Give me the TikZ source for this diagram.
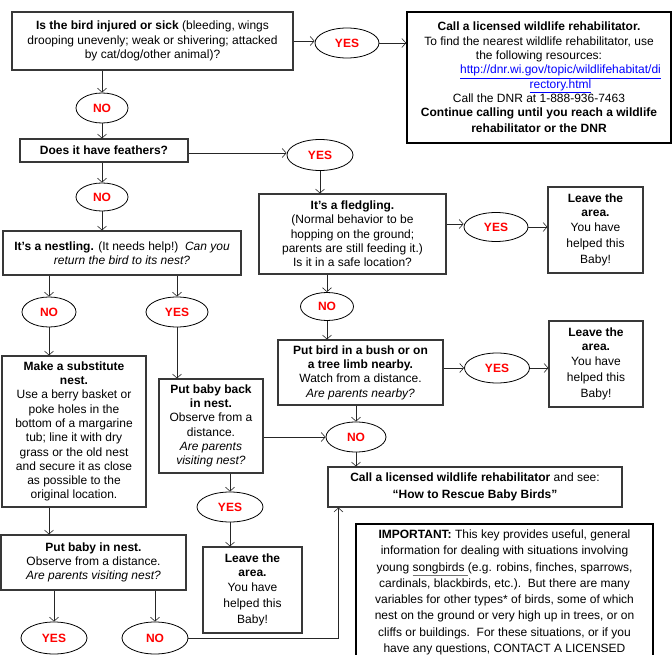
\documentclass[tikz,border=0pt]{standalone}
\usepackage{fontspec}
\setmainfont{Liberation Sans}
\usetikzlibrary{shapes.geometric,arrows.meta,calc}
\definecolor{linkblue}{HTML}{0000FF}
\definecolor{yesred}{HTML}{FF0000}
\newcommand\fsz{\fontsize{12}{14.3}\selectfont}
\newcommand\lnk[1]{\textcolor{linkblue}{\underline{#1}}}
\begin{document}
\begin{tikzpicture}[x=1pt,y=-1pt,
  box/.style={draw=black!78, line width=1.1pt, inner sep=0pt, align=center, font=\fsz, text=black},
  bigbox/.style={box, draw=black, line width=1.5pt},
  oval/.style={ellipse, draw=black, line width=0.8pt, inner sep=0pt, font=\fsz\bfseries, text=yesred},
  arr/.style={-{Straight Barb[length=4pt,width=9pt]}, line width=0.6pt, draw=black!85}]
\useasboundingbox (0,0) rectangle (672,655);
\fill[white] (0,0) rectangle (672,655);
\clip (0,0) rectangle (672,655);

% boxes
\node[box, minimum width=281pt, minimum height=58pt] (b1) at (152.5,41)
  {\textbf{Is the bird injured or sick} (bleeding, wings\\drooping unevenly; weak or shivering; attacked\\by cat/dog/other animal)?};
\node[bigbox, minimum width=264pt, minimum height=131pt] (b2) at (539,77.5)
  {\textbf{Call a licensed wildlife rehabilitator.}\\To find the nearest wildlife rehabilitator, use\\the following resources:\\\hspace*{43pt}\lnk{http://dnr.wi.gov/topic/wildlifehabitat/di}\\\hspace*{43pt}\lnk{rectory.html}\\Call the DNR at 1-888-936-7463\\\textbf{Continue calling until you reach a wildlife}\\[1.5pt]\textbf{rehabilitator or the DNR}};
\node[box, minimum width=168pt, minimum height=23pt] (b3) at (104,150.5)
  {\textbf{Does it have feathers?}};
\node[box, minimum width=238pt, minimum height=44pt] (b4) at (122,253)
  {\textbf{It’s a nestling.} (It needs help!)\ \ \textit{Can you}\\\textit{return the bird to its nest?}};
\node[box, minimum width=187pt, minimum height=80pt] (b5) at (352.5,234)
  {\textbf{It’s a fledgling.}\\(Normal behavior to be\\hopping on the ground;\\parents are still feeding it.)\\Is it in a safe location?};
\node[box, minimum width=95pt, minimum height=86pt] (b6) at (595.5,230)
  {\textbf{Leave the}\\\textbf{area.}\\You have\\[2pt]helped this\\[2pt]Baby!};
\node[box, minimum width=165pt, minimum height=65pt] (b7) at (360.5,372.5)
  {\textbf{Put bird in a bush or on}\\\textbf{a tree limb nearby.}\\Watch from a distance.\\\textit{Are parents nearby?}};
\node[box, minimum width=94pt, minimum height=86pt] (b8) at (596,364)
  {\textbf{Leave the}\\\textbf{area.}\\You have\\[2pt]helped this\\[2pt]Baby!};
\node[box, minimum width=294pt, minimum height=40pt] (b9) at (475,487)
  {\textbf{Call a licensed wildlife rehabilitator} and see:\\[3pt]\textbf{“How to Rescue Baby Birds”}};
\node[bigbox, anchor=north, minimum width=297pt, inner ysep=6pt, font=\fontsize{12}{16.3}\selectfont] (b10) at (504.5,523)
  {\textbf{IMPORTANT:} This key provides useful, general\\information for dealing with situations involving\\young \textcolor{black!55}{\underline{\textcolor{black}{songbirds\ }}}(e.g. robins, finches, sparrows,\\cardinals, blackbirds, etc.).\ \ But there are many\\variables for other types* of birds, some of which\\nest on the ground or very high up in trees, or on\\cliffs or buildings.\ \ For these situations, or if you\\have any questions, CONTACT A LICENSED\\ \strut};
\node[box, minimum width=144pt, minimum height=151pt] (b11) at (74,431.5)
  {\textbf{Make a substitute}\\\textbf{nest.}\\Use a berry basket or\\poke holes in the\\bottom of a margarine\\tub; line it with dry\\grass or the old nest\\and secure it as close\\as possible to the\\original location.};
\node[box, minimum width=104pt, minimum height=94pt] (b12) at (211,426)
  {\textbf{Put baby back}\\\textbf{in nest.}\\Observe from a\\distance.\\\textit{Are parents}\\\textit{visiting nest?}};
\node[box, minimum width=99pt, minimum height=86pt] (b13) at (252.5,590)
  {\textbf{Leave the}\\\textbf{area.}\\You have\\[2pt]helped this\\[2pt]Baby!};
\node[box, minimum width=185pt, minimum height=55pt] (b14) at (93.5,562.5)
  {\textbf{Put baby in nest.}\\Observe from a distance.\\\textit{Are parents visiting nest?}};

% ovals
\node[oval, minimum width=64pt, minimum height=30pt] (y1) at (347,43) {YES};
\node[oval, minimum width=52pt, minimum height=30pt] (n1) at (102,108) {NO};
\node[oval, minimum width=66pt, minimum height=31pt] (y2) at (320,155) {YES};
\node[oval, minimum width=52pt, minimum height=28pt] (n2) at (102,197) {NO};
\node[oval, minimum width=64pt, minimum height=29pt] (y3) at (496,227) {YES};
\node[oval, minimum width=53pt, minimum height=28pt] (n3) at (327,306.5) {NO};
\node[oval, minimum width=65pt, minimum height=30pt] (y4) at (497,368) {YES};
\node[oval, minimum width=60pt, minimum height=30pt] (n4) at (356,437) {NO};
\node[oval, minimum width=54pt, minimum height=30pt] (n5) at (49,312) {NO};
\node[oval, minimum width=62pt, minimum height=30pt] (y5) at (177,312) {YES};
\node[oval, minimum width=66pt, minimum height=30pt] (y6) at (230,507) {YES};
\node[oval, minimum width=66pt, minimum height=32pt] (y7) at (54,638) {YES};
\node[oval, minimum width=66pt, minimum height=32pt] (n6) at (155,638) {NO};
\coordinate (b9in) at ($(b9.south west)+(11,0)$);

% connectors
\draw[arr] (b1.east) -- (b1.east -| y1.west);
\draw[arr] (y1.east) -- (y1.east -| b2.west);
\draw[arr] (n1.north |- b1.south) -- (n1.north);
\draw[arr] (n1.south) -- (n1.south |- b3.north);
\draw[arr] ([yshift=-2.5pt]b3.east) -- ([yshift=-2.5pt]b3.east -| y2.west);
\draw[arr] (n2.north |- b3.south) -- (n2.north);
\draw[arr] (n2.south) -- (n2.south |- b4.north);
\draw[arr] (y2.south) -- (y2.south |- b5.north);
\draw[arr] ([yshift=10pt]b5.east) -- ([yshift=10pt]b5.east -| y3.west);
\draw[arr] (y3.east) -- (y3.east -| b6.west);
\draw[arr] (n3.north |- b5.south) -- (n3.north);
\draw[arr] (n3.south) -- (n3.south |- b7.north);
\draw[arr] (b7.east |- y4.west) -- (y4.west);
\draw[arr] (y4.east) -- (y4.east -| b8.west);
\draw[arr] (n4.north |- b7.south) -- (n4.north);
\draw[arr] (n4.south) -- (n4.south |- b9.north);
\draw[arr] (n5.north |- b4.south) -- (n5.north);
\draw[arr] (y5.north |- b4.south) -- (y5.north);
\draw[arr] (n5.south) -- (n5.south |- b11.north);
\draw[arr] (y5.south) -- (y5.south |- b12.north);
\draw[arr] (b12.east |- n4.west) -- (n4.west);
\draw[arr] (y6.north |- b12.south) -- (y6.north);
\draw[arr] (y6.south) -- (y6.south |- b13.north);
\draw[arr] (n5.south |- b11.south) -- (n5.south |- b14.north);
\draw[arr] (y7.north |- b14.south) -- (y7.north);
\draw[arr] (n6.north |- b14.south) -- (n6.north);
\draw[arr] (n6.east) -| (b9in);
\end{tikzpicture}
\end{document}
